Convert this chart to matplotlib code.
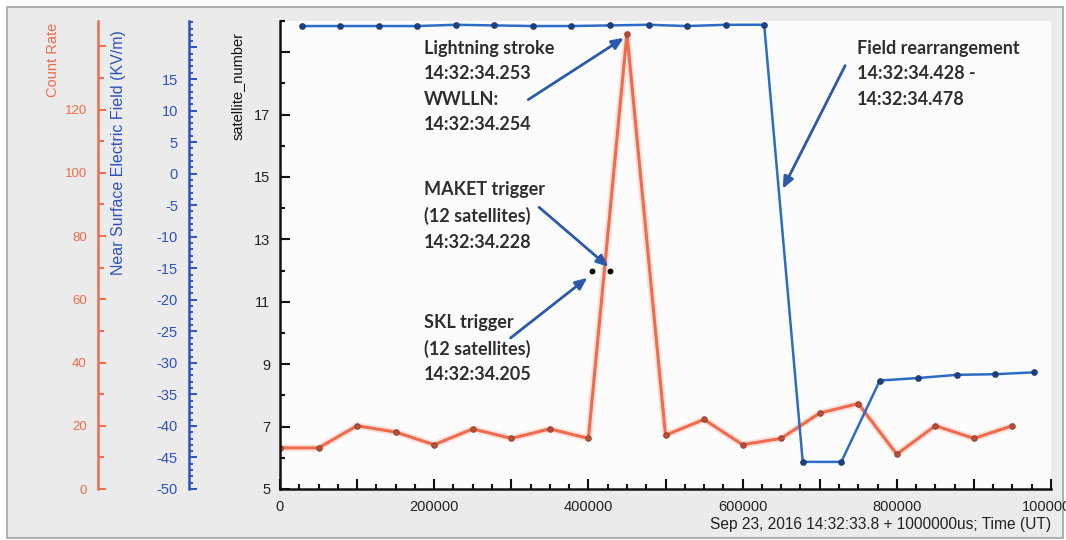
import matplotlib.pyplot as plt
from matplotlib.patches import Rectangle
from matplotlib.ticker import MultipleLocator, FixedLocator, FuncFormatter

# count rate, one sample every 50 ms (us after 14:32:33.8)
count_time = [0, 50000, 100000, 150000, 200000, 250000, 300000, 350000, 400000, 450000,
              500000, 550000, 600000, 650000, 700000, 750000, 800000, 850000, 900000, 950000]
count_rate = [13, 13, 20, 18, 14, 19, 16, 19, 16, 144,
              17, 22, 14, 16, 24, 27, 11, 20, 16, 20]

# near surface electric field (kV/m)
field_time = [28000, 78000, 128000, 178000, 228000, 278000, 328000, 378000, 428000, 478000,
              528000, 578000, 628000, 678000, 728000, 778000, 828000, 878000, 928000, 978000]
field_kvm = [23.4, 23.4, 23.4, 23.4, 23.6, 23.5, 23.4, 23.4, 23.5, 23.6,
             23.4, 23.6, 23.6, -45.7, -45.7, -32.8, -32.4, -31.9, -31.8, -31.5]

# SKL and MAKET trigger times, both with 12 satellites
trigger_time = [405000, 428000]
trigger_sats = [12, 12]

sat_ticks = [5, 7, 9, 11, 13, 15, 17, 19]

ORANGE = "#f06a4c"
BLUE = "#2d6cc6"
FIELD_AXIS = "#2d52bd"
ARROW = "#2a5aa8"
TEXT = "#2e2e2e"
TICK_FONT = "Liberation Sans"
NOTE_FONT = ["Lato", "DejaVu Sans"]

fig = plt.figure(figsize=(10.66, 5.40), dpi=100)
fig.patch.set_facecolor("white")
fig.patches.append(Rectangle((0.0066, 0.004), 0.9906, 0.983, transform=fig.transFigure,
                             facecolor="#ebebeb", edgecolor="#a3a3a3", lw=1.2, zorder=0))

rect = [280 / 1066, 51 / 540, 771 / 1066, 468 / 540]
ax = fig.add_axes(rect)
ax_c = ax.twinx()
ax_f = ax.twinx()

# stacking: count rate below field, satellite axis (annotations) on top
ax_c.set_zorder(1)
ax_f.set_zorder(2)
ax.set_zorder(3)
ax.patch.set_visible(False)
ax_f.patch.set_visible(False)
ax_c.patch.set_visible(True)
ax_c.set_facecolor("#fcfcfc")

# count rate line with a soft halo
ax_c.plot(count_time, count_rate, color=ORANGE, lw=5, alpha=0.18, solid_capstyle="round")
ax_c.plot(count_time, count_rate, color=ORANGE, lw=2.2, marker="o", ms=4,
          mfc="#b5513b", mec="#8a3a28", mew=0.6)
ax_f.plot(field_time, field_kvm, color=BLUE, lw=1.8, marker="o", ms=3.8,
          mfc="#1d3f7a", mec="#1d3f7a")
ax.plot(trigger_time, trigger_sats, ls="none", marker="o", ms=3.2, color="black")

ax.set_xlim(0, 1000000)
ax.set_ylim(5, 20)
ax_c.set_ylim(0, 148)
ax_f.set_ylim(-50, 24.2)

# main axes: satellite_number on the left, time along the bottom
for s in ["top", "right"]:
    ax.spines[s].set_visible(False)
for s in ["left", "bottom"]:
    ax.spines[s].set_linewidth(1.8)
    ax.spines[s].set_color("#111111")
ax.xaxis.set_major_locator(MultipleLocator(100000))
ax.xaxis.set_minor_locator(MultipleLocator(25000))
ax.xaxis.set_major_formatter(FuncFormatter(lambda v, p: f"{int(v)}" if int(v) % 200000 == 0 else ""))
ax.yaxis.set_major_locator(FixedLocator(sat_ticks))
ax.yaxis.set_minor_locator(MultipleLocator(1))
ax.yaxis.set_major_formatter(FuncFormatter(lambda v, p: f"{int(v)}" if v <= 17 else ""))
ax.tick_params(which="both", direction="in", color="#111111", width=1.5,
               labelsize=10.5, labelcolor="#222222")
ax.tick_params(which="major", length=7)
ax.tick_params(which="minor", length=3.5)
ax.tick_params(axis="x", pad=8)
ax.tick_params(axis="y", pad=7)
for lab in ax.get_xticklabels() + ax.get_yticklabels():
    lab.set_fontfamily(TICK_FONT)


def side_axis(a, pos, color, major, minor, top_label, maj_len, min_len, size):
    for s in ["top", "right", "bottom"]:
        a.spines[s].set_visible(False)
    a.spines["left"].set_visible(True)
    a.spines["left"].set_position(("axes", pos))
    a.spines["left"].set_color(color)
    a.spines["left"].set_linewidth(1.8)
    a.yaxis.set_ticks_position("left")
    a.yaxis.set_major_locator(MultipleLocator(major))
    a.yaxis.set_minor_locator(MultipleLocator(minor))
    a.yaxis.set_major_formatter(FuncFormatter(lambda v, p: f"{int(round(v))}" if v <= top_label else ""))
    a.tick_params(axis="y", which="both", direction="in", color=color, width=1.4,
                  labelcolor=color, labelsize=size, pad=8, right=False, labelright=False,
                  left=True, labelleft=True)
    a.tick_params(axis="y", which="major", length=maj_len)
    a.tick_params(axis="y", which="minor", length=min_len)
    for lab in a.get_yticklabels():
        lab.set_fontfamily(TICK_FONT)


side_axis(ax_c, -182 / 771, ORANGE, 20, 10, 120, 6, 4, 9.5)
side_axis(ax_f, -91 / 771, FIELD_AXIS, 5, 1, 15, 6, 3, 10.5)

# axis titles
fig.text(53 / 1066, 1 - 23 / 540, "Count Rate", rotation=90, ha="center", va="top",
         color=ORANGE, fontsize=10.5, family=TICK_FONT)
fig.text(118 / 1066, 1 - 30 / 540, "Near Surface Electric Field (KV/m)", rotation=90,
         ha="center", va="top", color=FIELD_AXIS, fontsize=11.5, family=TICK_FONT)
fig.text(238 / 1066, 1 - 32 / 540, "satellite_number", rotation=90, ha="center", va="top",
         color="#111111", fontsize=10.5, family=TICK_FONT)
fig.text(1051 / 1066, 1 - 524 / 540, "Sep 23, 2016 14:32:33.8 + 1000000us; Time (UT)",
         ha="right", va="center", color="#222222", fontsize=11.2, family=TICK_FONT)

# event notes with arrows
arrow = dict(arrowstyle="-|>,head_length=0.7,head_width=0.3", color=ARROW, lw=2.0,
             shrinkA=0, shrinkB=0)
ax.annotate("", xy=(446000, 19.46), xytext=(322000, 17.48), arrowprops=arrow)
ax.annotate("", xy=(426000, 12.12), xytext=(336000, 14.03), arrowprops=arrow)
ax.annotate("", xy=(398600, 11.77), xytext=(299000, 9.84), arrowprops=arrow)
ax.annotate("", xy=(652000, 14.62), xytext=(733000, 18.57), arrowprops=arrow)

note = dict(ha="left", va="center", color=TEXT, fontsize=13, family=NOTE_FONT,
            fontweight="bold", linespacing=1.6)
ax.text(186800, 17.9, "Lightning stroke\n14:32:34.253\nWWLLN:\n14:32:34.254", **note)
ax.text(186800, 13.75, "MAKET trigger\n(12 satellites)\n14:32:34.228", **note)
ax.text(186800, 9.51, "SKL trigger\n(12 satellites)\n14:32:34.205", **note)
ax.text(748000, 18.31, "Field rearrangement\n14:32:34.428 -\n14:32:34.478", **note)

fig.savefig("out.png", dpi=100)
